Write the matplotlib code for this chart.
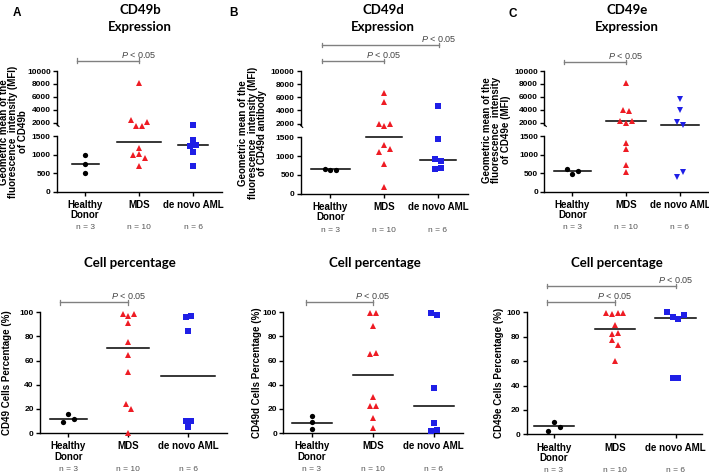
import numpy as np
import matplotlib
matplotlib.use('Agg')
import matplotlib.pyplot as plt
from matplotlib.transforms import blended_transform_factory

plt.rcParams['font.family'] = ['Liberation Sans', 'DejaVu Sans']
plt.rcParams['mathtext.fontset'] = 'custom'
plt.rcParams['mathtext.it'] = 'Liberation Sans:italic'
plt.rcParams['mathtext.rm'] = 'Liberation Sans'

# ---------------- data ----------------
categories = ['Healthy\nDonor', 'MDS', 'de novo AML']
n_labels = ['n = 3', 'n = 10', 'n = 6']

mfi_ticks = [0, 500, 1000, 1500, 2000, 4000, 6000, 8000, 10000]
pct_ticks = [0, 20, 40, 60, 80, 100]

# CD49b expression (MFI)
b_mfi_hd = [990, 740, 500]
b_mfi_mds = [8100, 2450, 1890, 1890, 2100, 1175, 1000, 1030, 920, 705]
b_mfi_aml = [1910, 1400, 1230, 1260, 1080, 700]
b_mfi_lines = [740, 1355, 1250]

# CD49d expression (MFI)
d_mfi_hd = [665, 640, 640]
d_mfi_mds = [6700, 5350, 2000, 1900, 2000, 1100, 1300, 1190, 800, 190]
d_mfi_aml = [4600, 1460, 910, 866, 652, 688]
d_mfi_lines = [650, 1510, 890]

# CD49e expression (MFI)
e_mfi_hd = [624, 479, 551]
e_mfi_mds = [8190, 3965, 3810, 2310, 2000, 2310, 1310, 1156, 722, 532]
e_mfi_aml = [5716, 3960, 2050, 1927, 407, 533]
e_mfi_lines = [551, 2260, 1930]

# CD49 cell percentage
b_pct_hd = [8.8, 15.7, 11.9]
b_pct_mds = [98.3, 96.7, 98.3, 90.9, 75.7, 64.4, 50.6, 23.8, 20.2, 0.0]
b_pct_aml = [95.9, 97.2, 84.8, 10.2, 10.2, 5.0]
b_pct_lines = [11.6, 70.7, 47.5]

# CD49d cell percentage
d_pct_hd = [14.4, 8.8, 3.0]
d_pct_mds = [99.2, 99.2, 88.7, 65.2, 66.3, 29.6, 22.1, 22.1, 12.7, 4.1]
d_pct_aml = [99.7, 97.5, 37.0, 8.0, 1.7, 2.2]
d_pct_lines = [8.6, 47.8, 22.7]

# CD49e cell percentage
e_pct_hd = [3.0, 10.1, 6.3]
e_pct_mds = [99.5, 98.8, 99.5, 99.5, 89.6, 82.5, 82.8, 77.0, 73.5, 59.8]
e_pct_aml = [100.0, 96.2, 94.3, 97.8, 46.4, 46.4]
e_pct_lines = [6.6, 86.3, 95.4]

# ---------------- helpers ----------------
W, H = 709, 474
fig = plt.figure(figsize=(W / 100, H / 100), dpi=100)

def fx(x):
    return x / W

def fy(y):
    return 1 - y / H

V = np.array([0, 1500, 2000, 10000.])
T = np.array([0, 167, 207.5, 363.])

def fwd(v):
    v = np.asarray(v, float)
    out = np.interp(v, V, T)
    out = np.where(v < 0, v * T[1] / V[1], out)
    out = np.where(v > V[-1], T[-1] + (v - V[-1]) * (T[-1] - T[-2]) / (V[-1] - V[-2]), out)
    return out

def inv(t):
    t = np.asarray(t, float)
    out = np.interp(t, T, V)
    out = np.where(t < 0, t * V[1] / T[1], out)
    out = np.where(t > T[-1], V[-1] + (t - T[-1]) * (V[-1] - V[-2]) / (T[-1] - T[-2]), out)
    return out

def swarm(ax, xc, vals, step_px=5.6, thr_px=5.0):
    vals = np.asarray(vals, float)
    pts = ax.transData.transform(np.column_stack([np.full(len(vals), float(xc)), vals]))
    ypx = pts[:, 1]
    order = np.argsort(-ypx, kind='stable')
    rows, cur = [], [order[0]]
    for i in order[1:]:
        if abs(ypx[i] - ypx[cur[-1]]) < thr_px:
            cur.append(i)
        else:
            rows.append(cur)
            cur = [i]
    rows.append(cur)
    pxx = ax.transData.transform([[1, 0]])[0, 0] - ax.transData.transform([[0, 0]])[0, 0]
    offs = np.zeros(len(vals))
    for r in rows:
        r = sorted(r)
        n = len(r)
        for k, i in enumerate(r):
            offs[i] = (k - (n - 1) / 2) * step_px / pxx
    return xc + offs

RED = '#ee1c24'
BLUE = '#1f1fe6'
GREY = '#808080'

def panel(rect_px, xcats_px, groups, lines, halfw, kind, aml_marker, brackets, ylabel, ylabel_pos, title_lines):
    x0, x1, ytop, ybot = rect_px
    ax = fig.add_axes([fx(x0), fy(ybot), fx(x1 - x0), (ybot - ytop) / H])
    c0, sp = xcats_px
    ax.set_xlim((x0 - c0) / sp, (x1 - c0) / sp)
    if kind == 'mfi':
        ax.set_yscale('function', functions=(fwd, inv))
        ax.set_ylim(0, 10000)
        ax.set_yticks(mfi_ticks)
        ax.set_yticklabels([str(t) for t in mfi_ticks])
    else:
        ax.set_ylim(0, 100)
        ax.set_yticks(pct_ticks)
    ax.minorticks_off()
    for s in ['top', 'right']:
        ax.spines[s].set_visible(False)
    ax.spines['bottom'].set_linewidth(1.0)
    ax.spines['left'].set_linewidth(1.0)
    if kind == 'mfi':
        ax.spines['left'].set_visible(False)
        tr = blended_transform_factory(ax.transAxes, ax.transData)
        ax.plot([0, 0], [0, 1500], color='black', lw=1.0, transform=tr, clip_on=False)
        ax.plot([0, 0], [1930, 10000], color='black', lw=1.0, transform=tr, clip_on=False)
        ax.plot([0, 0.012], [1930, 1860], color='black', lw=0.8, transform=tr, clip_on=False)
    ax.tick_params(axis='y', length=3, width=1.0, labelsize=6, pad=1.5)
    ax.tick_params(axis='x', length=3, width=1.0, labelsize=7, pad=3)
    ax.set_xticks([0, 1, 2])
    ax.set_xticklabels(categories, fontweight='bold', linespacing=1.05)
    for lab in ax.get_yticklabels():
        lab.set_fontweight('bold')
    markers = ['o', '^', aml_marker]
    colors = ['black', RED, BLUE]
    sizes = [3.8, 4.2, 3.8]
    for i, (vals, m, c) in enumerate(zip(groups, markers, colors)):
        xs = swarm(ax, i, vals)
        ax.plot(xs, vals, linestyle='none', marker=m, color=c, markersize=sizes[i],
                markeredgewidth=0, clip_on=False, zorder=3)
        ax.plot([i - halfw[i], i + halfw[i]], [lines[i], lines[i]], color='black', lw=1.1, zorder=2)
    trn = blended_transform_factory(ax.transData, ax.transAxes)
    for i, t in enumerate(n_labels):
        ax.text(i, -0.30, t, transform=trn, ha='center', va='center', fontsize=6, color='#555555')
    for (xa, xb, ypx) in brackets:
        yf = (ybot - ypx) / (ybot - ytop)
        ax.plot([xa, xb], [yf, yf], color=GREY, lw=1.0, transform=trn, clip_on=False)
        for xe in (xa, xb):
            ax.plot([xe, xe], [yf - 2.2 / (ybot - ytop), yf + 2.2 / (ybot - ytop)], color=GREY,
                    lw=0.9, transform=trn, clip_on=False)
        ax.text(xb, yf + 1.0 / (ybot - ytop), r'$\it{P}$ < 0.05', transform=trn, ha='center', va='bottom',
                fontsize=6.5, color='#444444')
    fig.text(fx(ylabel_pos[0]), fy(ylabel_pos[1]), ylabel, rotation=90, ha='center', va='center',
             fontsize=7, fontweight='bold', linespacing=0.95, multialignment='center')
    for (t, tx, ty) in title_lines:
        fig.text(fx(tx), fy(ty), t, ha='center', va='center', fontsize=9.5, fontweight='bold',
                 family=['Lato', 'DejaVu Sans'])
    return ax

# ---- top row ----
panel((57, 222, 71, 191.7), (85, 54), [b_mfi_hd, b_mfi_mds, b_mfi_aml], b_mfi_lines,
      [0.25, 0.4, 0.27], 'mfi', 's', [(-0.15, 1.0, 60.7)],
      'Geometric mean of the\nfluorescence  intensity (MFI)\nof CD49b', (13.5, 132),
      [('CD49b', 140, 10), ('Expression', 140, 27.3)])
panel((300.7, 468, 71, 193.7), (330.3, 53.8), [d_mfi_hd, d_mfi_mds, d_mfi_aml], d_mfi_lines,
      [0.36, 0.34, 0.33], 'mfi', 's', [(-0.15, 2.02, 45), (-0.15, 1.0, 61)],
      'Geometric mean of the\nfluorescence  intensity (MFI)\nof CD49d antibody', (252.7, 133),
      [('CD49d', 383.3, 10), ('Expression', 383.3, 27.3)])
panel((544.3, 708, 71, 191.7), (572.3, 53.8), [e_mfi_hd, e_mfi_mds, e_mfi_aml], e_mfi_lines,
      [0.34, 0.37, 0.35], 'mfi', 'v', [(-0.16, 1.0, 62)],
      'Geometric mean of the\nfluorescence  intensity\nof CD49e (MFI)', (496.3, 130),
      [('CD49e', 626.7, 10), ('Expression', 626.7, 27.3)])

# ---- bottom row ----
panel((40, 227, 312.3, 433), (68.3, 60), [b_pct_hd, b_pct_mds, b_pct_aml], b_pct_lines,
      [0.31, 0.35, 0.45], 'pct', 's', [(-0.14, 1.0, 302.3)],
      'CD49 Cells Percentage (%)', (7.3, 373), [('Cell percentage', 130, 263.3)])
panel((283.3, 463, 312.3, 433), (311.7, 61), [d_pct_hd, d_pct_mds, d_pct_aml], d_pct_lines,
      [0.33, 0.33, 0.33], 'pct', 's', [(-0.1, 1.0, 302.3)],
      'CD49d Cells Percentage (%)', (256.7, 373), [('Cell percentage', 375, 263.3)])
panel((526.7, 701.7, 312.3, 434.3), (554, 60.8), [e_pct_hd, e_pct_mds, e_pct_aml], e_pct_lines,
      [0.33, 0.33, 0.34], 'pct', 's', [(-0.11, 2.0, 285.7), (-0.11, 1.0, 302.3)],
      'CD49e Cells Percentage (%)', (499.3, 373), [('Cell percentage', 616.7, 263.3)])

for t, x, y in [('A', 16.7, 13.3), ('B', 234, 13.3), ('C', 512.7, 14)]:
    fig.text(fx(x), fy(y), t, ha='center', va='center', fontsize=8.5, fontweight='bold')

fig.savefig('out.png', dpi=100)
